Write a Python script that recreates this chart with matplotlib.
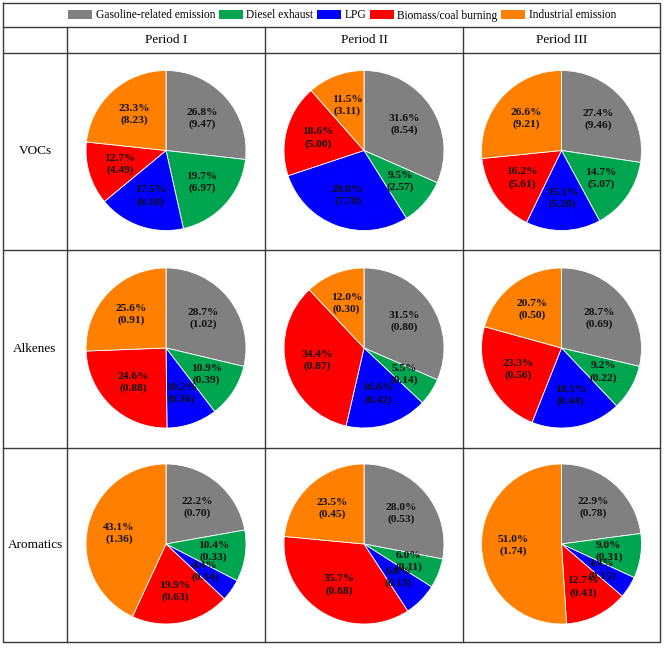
import matplotlib
matplotlib.use("Agg")
import matplotlib.pyplot as plt
from matplotlib.patches import Patch

plt.rcParams['font.family'] = ['Liberation Serif', 'DejaVu Serif']

# sources and colours (clockwise from 12 o'clock)
sources = ['Gasoline-related emission', 'Diesel exhaust', 'LPG',
           'Biomass/coal burning', 'Industrial emission']
colors = ['#808080', '#00A550', '#0000FF', '#FF0000', '#FF8000']

periods = ['Period I', 'Period II', 'Period III']
species = ['VOCs', 'Alkenes', 'Aromatics']

# percentage share of each source
voc_pct = [[26.8, 19.7, 17.5, 12.7, 23.3],
           [31.6, 9.5, 28.8, 18.6, 11.5],
           [27.4, 14.7, 15.1, 16.2, 26.6]]
alkene_pct = [[28.7, 10.9, 10.2, 24.6, 25.6],
              [31.5, 5.5, 16.6, 34.4, 12.0],
              [28.7, 9.2, 18.1, 23.3, 20.7]]
aromatic_pct = [[22.2, 10.4, 4.4, 19.9, 43.1],
                [28.0, 6.0, 6.8, 35.7, 23.5],
                [22.9, 9.0, 4.4, 12.7, 51.0]]

# absolute contributions (values in brackets)
voc_val = [[9.47, 6.97, 6.18, 4.49, 8.23],
           [8.54, 2.57, 7.78, 5.00, 3.11],
           [9.46, 5.07, 5.20, 5.61, 9.21]]
alkene_val = [[1.02, 0.39, 0.36, 0.88, 0.91],
              [0.80, 0.14, 0.42, 0.87, 0.30],
              [0.69, 0.22, 0.44, 0.56, 0.50]]
aromatic_val = [[0.70, 0.33, 0.14, 0.63, 1.36],
                [0.53, 0.11, 0.13, 0.68, 0.45],
                [0.78, 0.31, 0.15, 0.43, 1.74]]

pct_rows = [voc_pct, alkene_pct, aromatic_pct]
val_rows = [voc_val, alkene_val, aromatic_val]

W, H = 664, 648
fig = plt.figure(figsize=(W / 100, H / 100), dpi=100)

# table grid in pixel coordinates
bg = fig.add_axes([0, 0, 1, 1])
bg.set_xlim(0, W)
bg.set_ylim(H, 0)
bg.axis('off')

col_x = [3, 67, 265, 463, 660]
row_y = [3, 27, 53, 250, 448, 642]
line_kw = dict(color='#3a3a3a', lw=1.0)

# outer box
bg.plot([col_x[0], col_x[-1], col_x[-1], col_x[0], col_x[0]],
        [row_y[0], row_y[0], row_y[-1], row_y[-1], row_y[0]], **line_kw)
for y in row_y[1:-1]:
    bg.plot([col_x[0], col_x[-1]], [y, y], **line_kw)
for x in col_x[1:-1]:
    bg.plot([x, x], [row_y[1], row_y[-1]], **line_kw)

# header texts
for j, p in enumerate(periods):
    cx = (col_x[j + 1] + col_x[j + 2]) / 2
    bg.text(cx, (row_y[1] + row_y[2]) / 2, p, ha='center', va='center',
            fontsize=9.5)
for i, s in enumerate(species):
    cy = (row_y[i + 2] + row_y[i + 3]) / 2
    bg.text((col_x[0] + col_x[1]) / 2, cy, s, ha='center', va='center',
            fontsize=9.5)

# legend
handles = [Patch(facecolor=c, edgecolor='none') for c in colors]
fig.legend(handles, sources, loc='center', ncol=5,
           bbox_to_anchor=(342 / W, 1 - 15.5 / H), frameon=False,
           fontsize=8.3, handlelength=2.1, handleheight=0.7,
           handletextpad=0.3, columnspacing=0.3, borderpad=0)

# pies
r = 80
lim = 1.05
half = r * lim
for i in range(3):
    for j in range(3):
        cx = (col_x[j + 1] + col_x[j + 2]) / 2
        cy = (row_y[i + 2] + row_y[i + 3]) / 2 - 1
        ax = fig.add_axes([(cx - half) / W, 1 - (cy + half) / H,
                           2 * half / W, 2 * half / H])
        pct = pct_rows[i][j]
        val = val_rows[i][j]
        labels = iter([f"{p:.1f}%\n({v:.2f})" for p, v in zip(pct, val)])
        ax.pie(pct, colors=colors, startangle=90, counterclock=False,
               autopct=lambda _: next(labels), pctdistance=0.6,
               wedgeprops=dict(edgecolor='white', linewidth=0.6),
               textprops=dict(fontsize=8.2, fontweight='bold',
                              color='#111111', linespacing=1.35))
        ax.set_xlim(-lim, lim)
        ax.set_ylim(-lim, lim)
        ax.set_aspect('equal')

fig.savefig('out.png', dpi=100)
